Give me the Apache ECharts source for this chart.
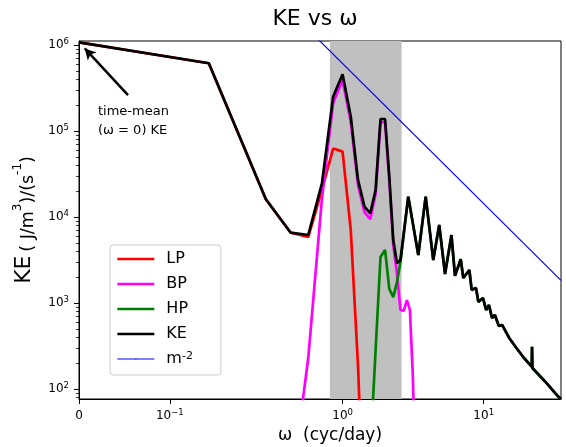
<!DOCTYPE html>
<html><head><meta charset="utf-8">
<script src="https://cdn.jsdelivr.net/npm/echarts@6/dist/echarts.min.js"></script>
<style>html,body{margin:0;padding:0;background:#fff}#c{width:566px;height:447px}</style>
</head><body><div id="c"></div>
<script>
// ---- data (frequency in cyc/day, KE in (J/m^3)/(s^-1)) ----
const gridFreq = [0, 0.143, 0.286, 0.429, 0.571, 0.714, 0.857, 1.0, 1.143, 1.286, 1.429, 1.571, 1.714, 1.857, 2.0, 2.143, 2.286, 2.429, 2.571, 2.714, 2.857, 3.0, 3.143, 3.286];
const lpVals = [1.08e6, 6.18e5, 1.62e4, 6.6e3, 5.9e3, 2.09e4, 6.3e4, 5.8e4, 7.1e3, 190, 2];
const bpVals = [null, null, null, 6, 231, 1.65e4, 2.13e5, 3.95e5, 1.28e5, 2.38e4, 1.15e4, 9.5e3, 1.87e4, 1.28e5, 1.28e5, 2.7e4, 4.8e3, 2.2e3, 836, 820, 1.09e3, 836, 150, 10];
const hpVals = [null, null, null, null, null, null, null, null, null, null, 2, 18, 286, 3.45e3, 4.17e3, 1.47e3, 1.18e3, 1.77e3, 3.0e3];
const keVals = [1.08e6, 6.18e5, 1.62e4, 6.62e3, 6.22e3, 2.48e4, 2.52e5, 4.6e5, 1.48e5, 2.72e4, 1.33e4, 1.11e4, 2.08e4, 1.39e5, 1.39e5, 2.94e4, 5.45e3, 2.92e3, 3.19e3];
// high-frequency tail shared by KE and HP
const tailFreq = [2.92, 3.44, 3.88, 4.39, 4.84, 5.32, 5.91, 6.26, 6.87, 7.17, 7.91, 8.22, 8.82, 9.16, 9.89, 10.4, 10.9, 11.45, 12.0, 12.8, 13.5, 15.2, 17.1, 19.3, 21.9, 22.0, 22.15, 28.0, 32.9, 35.3];
const tailVals = [1.74e4, 3.64e3, 1.74e4, 3.19e3, 8.14e3, 2.19e3, 6.22e3, 2.08e3, 3.25e3, 1.97e3, 2.44e3, 1.43e3, 1.51e3, 1.04e3, 1.15e3, 836, 955, 675, 731, 545, 560, 392, 300, 231, 183, 313, 177, 117, 86, 77];
const refFreq = [0.6, 35.3];
const refVals = [1.41e6, 1.85e3];
const bandFreq = [0.813, 2.62];
const arrowFrom = [0.054, 2.64e5];
const arrowTo = [0.0063, 9.2e5];
const xTickVals = [0, 0.1, 1, 10];
const xTickLabels = ['0', '10^−1', '10^0', '10^1'];
const yTickVals = [1e2, 1e3, 1e4, 1e5, 1e6];
const yMinorVals = [80, 90, 200, 300, 400, 500, 600, 700, 800, 900, 2e3, 3e3, 4e3, 5e3, 6e3, 7e3, 8e3, 9e3, 2e4, 3e4, 4e4, 5e4, 6e4, 7e4, 8e4, 9e4, 2e5, 3e5, 4e5, 5e5, 6e5, 7e5, 8e5, 9e5];
const X_MAX = 35.3, Y_MIN = 77.1, Y_MAX = 1.122e6;

// symmetric-log x scale (linear near 0, log beyond threshold)
const LIN_THRESH = 0.1712, LIN_SCALE = 1.1013;
function symlog(x) { return x <= LIN_THRESH ? x * LIN_SCALE : LIN_THRESH * (LIN_SCALE + Math.log10(x / LIN_THRESH)); }
function pairs(fr, vals) {
  const out = [];
  for (let i = 0; i < vals.length; i++) if (vals[i] != null) out.push([symlog(fr[i]), vals[i]]);
  return out;
}
const FONT = 'DejaVu Sans';
const lpData = pairs(gridFreq, lpVals);
const bpData = pairs(gridFreq, bpVals);
const hpData = pairs(gridFreq, hpVals).concat(pairs(tailFreq, tailVals));
const keData = pairs(gridFreq, keVals).concat(pairs(tailFreq, tailVals));
const refData = pairs(refFreq, refVals);

const supRich = {
  b: { fontSize: 12, lineHeight: 16, fontFamily: FONT, color: '#000' },
  s: { fontSize: 8.5, lineHeight: 3.5, verticalAlign: 'top', fontFamily: FONT, color: '#000' }
};
function fmtLabel(t) {
  const p = t.split('^');
  return p.length === 1 ? '{b|' + p[0] + '}' : '{b|' + p[0] + '}{s|' + p[1] + '}';
}
const xTickT = xTickVals.map(symlog);

const chart = echarts.init(document.getElementById('c'), null, { renderer: 'canvas' });
const thick = 2.7;
chart.setOption({
  animation: false,
  textStyle: { fontFamily: FONT },
  title: {
    text: 'KE vs ω', left: 310, top: 3, textAlign: 'center',
    textStyle: { fontSize: 22, fontWeight: 'normal', color: '#000', fontFamily: FONT }
  },
  grid: { left: 79, right: 5, top: 41, bottom: 48, containLabel: false, outerBoundsMode: 'none',
          show: true, borderColor: '#000', borderWidth: 1, backgroundColor: 'transparent' },
  legend: {
    orient: 'vertical', left: 110, top: 245, selectedMode: false,
    itemWidth: 37, itemHeight: 1.5, itemGap: 9,
    padding: [6, 28, 8, 6],
    backgroundColor: 'rgba(255,255,255,0.8)', borderColor: '#cccccc', borderWidth: 1, borderRadius: 3,
    textStyle: { fontSize: 16, lineHeight: 16, color: '#000', fontFamily: FONT, padding: [0, 0, 0, 7],
      rich: {
        m: { fontSize: 16, lineHeight: 16, fontFamily: FONT, color: '#000' },
        s: { fontSize: 11, lineHeight: 3.4, verticalAlign: 'top', fontFamily: FONT, color: '#000' }
      } },
    formatter: n => n === 'm-2' ? '{m|m}{s|-2}' : n,
    data: [
      { name: 'LP', lineStyle: { width: thick } },
      { name: 'BP', lineStyle: { width: thick } },
      { name: 'HP', lineStyle: { width: thick } },
      { name: 'KE', lineStyle: { width: thick } },
      { name: 'm-2', lineStyle: { width: 1.2 } }
    ]
  },
  graphic: [{
    type: 'text', left: 98, top: 102, z: 10,
    style: { text: 'time-mean\n(ω = 0) KE', font: '13px "DejaVu Sans"', lineHeight: 19, fill: '#000' }
  }],
  xAxis: {
    type: 'value', min: 0, max: symlog(X_MAX),
    name: 'ω  (cyc/day)', nameLocation: 'middle', nameGap: 28,
    nameTextStyle: { fontSize: 17, color: '#000', fontFamily: FONT, padding: [0, 0, 0, 20] },
    axisLine: { show: true, onZero: false, lineStyle: { color: '#000', width: 1 } },
    axisTick: { show: true, length: 5, customValues: xTickT, lineStyle: { color: '#000', width: 1 } },
    axisLabel: {
      customValues: xTickT, margin: 9,
      formatter: v => {
        let k = 0, d = Infinity;
        xTickT.forEach((t, i) => { if (Math.abs(t - v) < d) { d = Math.abs(t - v); k = i; } });
        return fmtLabel(xTickLabels[k]);
      },
      rich: supRich
    },
    splitLine: { show: false }
  },
  yAxis: [{
    type: 'log', logBase: 10, min: Y_MIN, max: Y_MAX, position: 'left',
    name: '{k|KE} {u|( J/m}{s|3}{u|)/(s}{s|-1}{u|)}', nameLocation: 'middle', nameRotate: 90, nameGap: 40,
    nameTextStyle: { padding: [0, 0, 0, 0], rich: {
      k: { fontSize: 22, lineHeight: 26, fontFamily: FONT, color: '#000' },
      u: { fontSize: 17.5, lineHeight: 22, verticalAlign: 'bottom', fontFamily: FONT, color: '#000' },
      s: { fontSize: 12, lineHeight: 22, verticalAlign: 'top', fontFamily: FONT, color: '#000' }
    } },
    axisLine: { show: true, onZero: false, lineStyle: { color: '#000', width: 1 } },
    axisTick: { show: true, length: 5, customValues: yTickVals, lineStyle: { color: '#000', width: 1 } },
    axisLabel: {
      customValues: yTickVals, margin: 10,
      formatter: v => fmtLabel('10^' + Math.round(Math.log10(v))),
      rich: supRich
    },
    splitLine: { show: false }, minorTick: { show: false }
  }, {
    type: 'log', logBase: 10, min: Y_MIN, max: Y_MAX, position: 'left', offset: 0,
    axisLine: { show: false },
    axisTick: { show: true, length: 3, customValues: yMinorVals, lineStyle: { color: '#000', width: 0.8 } },
    axisLabel: { show: false }, splitLine: { show: false }
  }],
  series: [
    { name: 'LP', type: 'line', data: lpData, symbol: 'none', lineStyle: { color: '#ff0000', width: thick }, itemStyle: { color: '#ff0000' },
      markArea: { silent: true, itemStyle: { color: '#c0c0c0', opacity: 1 },
        data: [[{ xAxis: symlog(bandFreq[0]) }, { xAxis: symlog(bandFreq[1]) }]] } },
    { name: 'BP', type: 'line', data: bpData, symbol: 'none', lineStyle: { color: '#ff00ff', width: thick }, itemStyle: { color: '#ff00ff' } },
    { name: 'HP', type: 'line', data: hpData, symbol: 'none', lineStyle: { color: '#008000', width: thick }, itemStyle: { color: '#008000' } },
    { name: 'KE', type: 'line', data: keData, symbol: 'none', lineStyle: { color: '#000000', width: thick }, itemStyle: { color: '#000000' },
      markLine: { silent: true, symbol: ['none', 'arrow'], symbolSize: [9, 11], label: { show: false },
        lineStyle: { color: '#000', width: 2.5, type: 'solid' },
        data: [[{ coord: [symlog(arrowFrom[0]), arrowFrom[1]] }, { coord: [symlog(arrowTo[0]), arrowTo[1]] }]] } },
    { name: 'm-2', type: 'line', data: refData, symbol: 'none', lineStyle: { color: '#0000ff', width: 1.2 }, itemStyle: { color: '#0000ff' } }
  ]
});
</script></body></html>
